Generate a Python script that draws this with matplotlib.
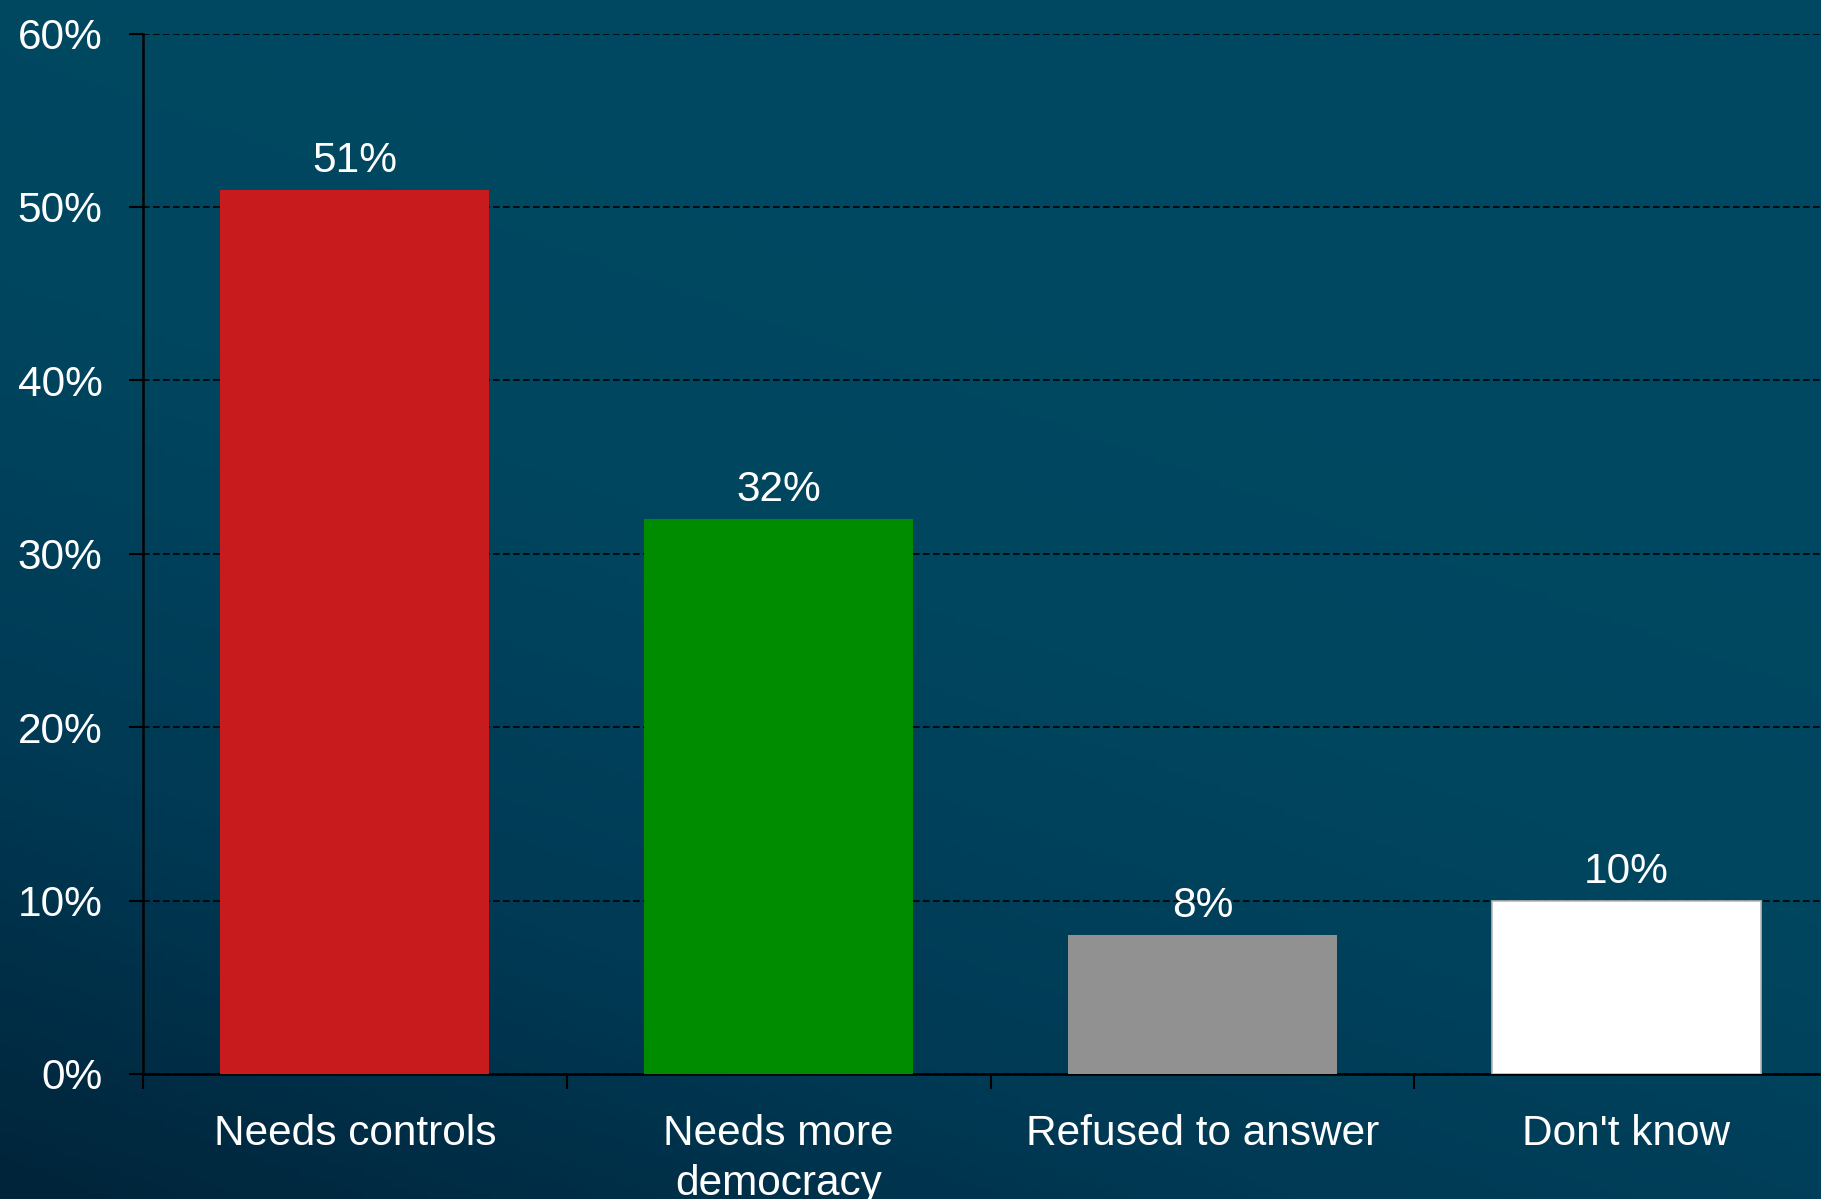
import matplotlib
matplotlib.use("Agg")
import matplotlib.pyplot as plt
import numpy as np
from matplotlib.colors import LinearSegmentedColormap

categories = ["Needs controls", "Needs more\ndemocracy", "Refused to answer", "Don't know"]
values = [51, 32, 8, 10]
bar_colors = ["#C81B1E", "#008C00", "#919191", "#FFFFFF"]
yticks = [0, 10, 20, 30, 40, 50, 60]

plt.rcParams['font.family'] = ['Liberation Sans', 'DejaVu Sans']
fs = 30.5

fig = plt.figure(figsize=(18.21, 11.99), dpi=100)

# background gradient (dark at bottom-left, lighter teal at top-right)
bg = fig.add_axes([0, 0, 1, 1], zorder=-10)
gx, gy = np.meshgrid(np.linspace(0, 1, 200), np.linspace(0, 1, 200))
grad = np.clip(0.35 * gx + 0.65 * gy + 0.25, 0, 1)
cmap = LinearSegmentedColormap.from_list("bg", ["#00243a", "#003a55", "#00465f", "#004862"])
bg.imshow(grad, cmap=cmap, origin="lower", aspect="auto", extent=[0, 1, 0, 1])
bg.set_axis_off()

ax = fig.add_axes([0.0785, 0.1043, 0.931, 0.8677])
ax.patch.set_alpha(0)

x = np.arange(len(categories))
bars = ax.bar(x, values, width=0.635, color=bar_colors, zorder=3)
bars[3].set_edgecolor("#b8b8b8")
bars[3].set_linewidth(1.2)

for xi, v in zip(x, values):
    ax.annotate(f"{v}%", (xi, v), xytext=(0, 6.5), textcoords="offset points",
                ha="center", va="bottom", color="white", fontsize=fs)

ax.set_xlim(-0.5, 3.5)
ax.set_ylim(0, 60)
ax.set_yticks(yticks)
ax.set_yticklabels([f"{t}%" for t in yticks])
ax.set_xticks(x)
ax.set_xticklabels(categories)
ax.set_xticks(np.arange(len(categories)) - 0.5, minor=True)

ax.tick_params(axis="y", colors="black", labelcolor="white", labelsize=fs,
               direction="out", length=10, width=1.5, pad=19)
ax.tick_params(axis="x", which="major", length=0, labelcolor="white",
               labelsize=fs, pad=29)
ax.tick_params(axis="x", which="minor", direction="out", length=11,
               width=1.5, colors="black")
for lab in ax.get_xticklabels():
    lab.set_linespacing(1.3)

ax.grid(axis="y", color="black", linestyle=(0, (4, 2)), linewidth=1.2, zorder=0)
ax.set_axisbelow(True)
for s in ["top", "right"]:
    ax.spines[s].set_visible(False)
ax.spines["left"].set_linewidth(1.8)
ax.spines["bottom"].set_linewidth(1.8)

fig.savefig("out.png", dpi=100)
